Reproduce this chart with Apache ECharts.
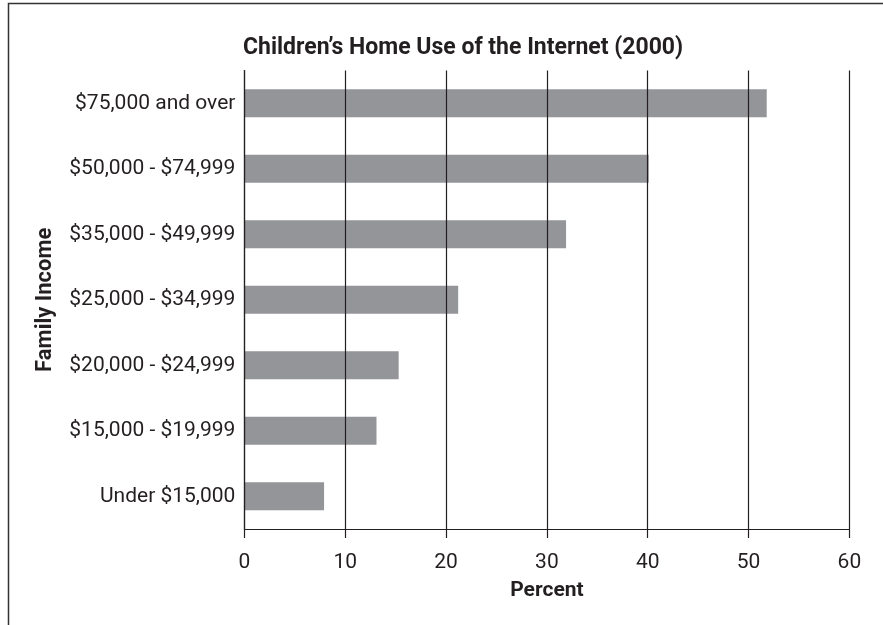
<!DOCTYPE html>
<html>
<head>
<meta charset="utf-8">
<script src="https://cdn.jsdelivr.net/npm/echarts@6/dist/echarts.min.js"></script>
<style>
  html, body { margin: 0; padding: 0; background: #fff; }
  #chart { width: 883px; height: 625px; }
</style>
</head>
<body>
<div id="chart"></div>
<script>
var categories = ['Under $15,000', '$15,000 - $19,999', '$20,000 - $24,999', '$25,000 - $34,999',
    '$35,000 - $49,999', '$50,000 - $74,999', '$75,000 and over']
var percents = [7.9, 13.1, 15.3, 21.2, 31.9, 40.1, 51.8]
var percentTicks = [0, 10, 20, 30, 40, 50, 60]

var ink = '#231f20'
var labelFont = "'Roboto', sans-serif"

var chart = echarts.init(document.getElementById('chart'))
var option = {
    animation: false,
    backgroundColor: '#fff',
    title: {
        text: 'Children\u2019s Home Use of the Internet (2000)',
        left: 238,
        top: 32,
        textStyle: { color: ink, fontSize: 23, fontWeight: 'bold', fontFamily: labelFont }
    },
    graphic: [
        {
            type: 'polyline',
            shape: { points: [[8.5, 625], [8.5, 3.5], [883, 3.5]] },
            style: { stroke: '#333', lineWidth: 1.5, fill: null }
        }
    ],
    grid: { left: 244.4, top: 70.5, width: 605, height: 458.5, outerBoundsMode: 'none' },
    xAxis: {
        type: 'value',
        min: percentTicks[0],
        max: percentTicks[percentTicks.length - 1],
        interval: 10,
        z: 5,
        name: 'Percent',
        nameLocation: 'middle',
        nameGap: 51,
        nameTextStyle: { color: ink, fontSize: 21, fontWeight: 'bold', fontFamily: labelFont },
        axisLine: { show: true, lineStyle: { color: ink, width: 1.2 } },
        axisTick: { show: true, length: 9, lineStyle: { color: ink, width: 1.2 } },
        axisLabel: { color: ink, fontSize: 21, fontFamily: labelFont, margin: 23 },
        splitLine: { show: true, lineStyle: { color: ink, width: 1.2 } }
    },
    yAxis: {
        type: 'category',
        data: categories,
        z: 5,
        name: 'Family Income',
        nameLocation: 'middle',
        nameGap: 188,
        nameRotate: 90,
        nameTextStyle: { color: ink, fontSize: 22, fontWeight: 'bold', fontFamily: labelFont },
        axisLine: { show: true, lineStyle: { color: ink, width: 1.2 } },
        axisTick: { show: false },
        axisLabel: { color: ink, fontSize: 21, fontFamily: labelFont, margin: 9 }
    },
    series: [
        {
            type: 'bar',
            data: percents,
            barWidth: '43%',
            itemStyle: { color: '#939598' }
        }
    ]
}
chart.setOption(option)
</script>
</body>
</html>
